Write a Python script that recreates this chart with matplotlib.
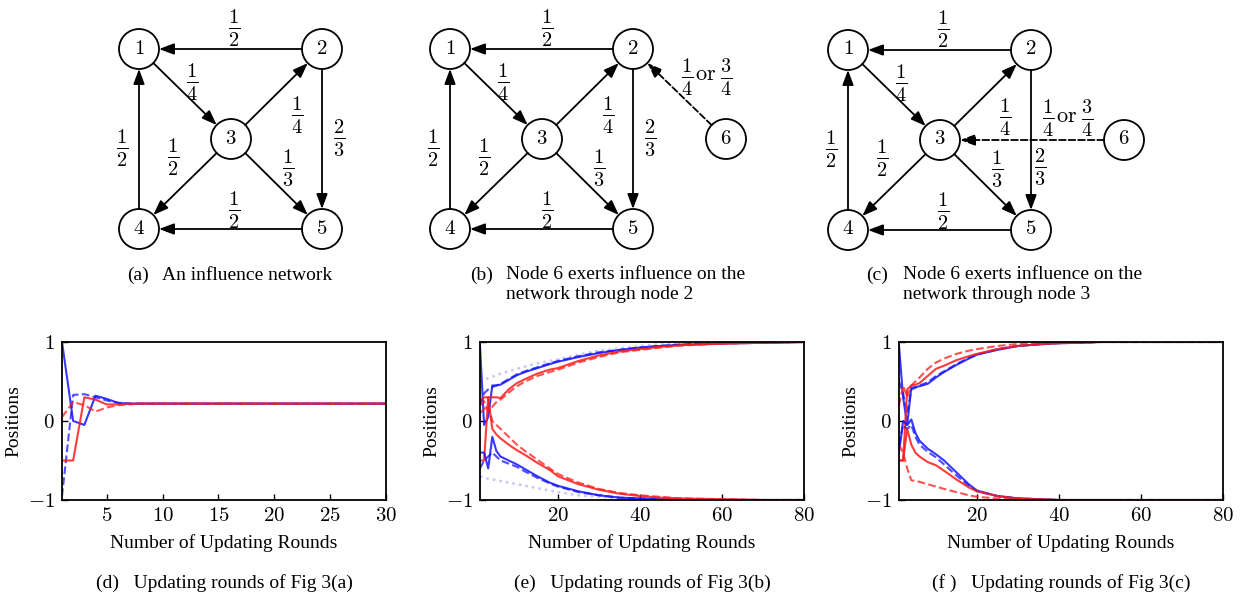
import matplotlib
matplotlib.use("Agg")
import matplotlib.pyplot as plt
from matplotlib.patches import Circle

plt.rcParams['font.family'] = 'Liberation Serif'
plt.rcParams['mathtext.fontset'] = 'cm'

# ---- network diagrams (a), (b), (c) ----
node_names = ['1', '2', '3', '4', '5', '6']
# node offsets from node 1, in pixels
node_offsets = {'1': (0, 0), '2': (183, 0), '3': (92, 90), '4': (0, 180),
                '5': (183, 180), '6': (276, 90)}
panel_origins = [(139, 49), (450, 49), (848, 50)]
edges = [('2', '1'), ('1', '3'), ('3', '2'), ('2', '5'),
         ('4', '1'), ('3', '4'), ('3', '5'), ('5', '4')]
edge_weights = [r'$\frac{1}{2}$', r'$\frac{1}{4}$', r'$\frac{1}{4}$', r'$\frac{2}{3}$',
                r'$\frac{1}{2}$', r'$\frac{1}{2}$', r'$\frac{1}{3}$', r'$\frac{1}{2}$']
extra_edges = [None, ('6', '2'), ('6', '3')]
extra_weight = [r'$\frac{1}{4}$', r'$\mathrm{or}$', r'$\frac{3}{4}$']
# label offsets (from node 1) for each panel
label_offsets = [
    [(95, -21), (53, 33), (158, 66), (200, 89), (-17, 99), (34, 108), (149, 119), (95, 161)],
    [(97, -21), (53, 33), (158, 66), (200, 89), (-17, 99), (34, 108), (149, 119), (97, 161)],
    [(95, -21), (53, 33), (157, 67), (192, 117), (-17, 99), (34, 108), (149, 119), (95, 161)],
]
extra_label_offsets = [None, (256, 28), (219, 68)]
top_tags = ['(a)', '(b)', '(c)']
top_captions = ['An influence network',
                'Node 6 exerts influence on the\nnetwork through node 2',
                'Node 6 exerts influence on the\nnetwork through node 3']
tag_x = [127, 470, 866]
caption_x = [162, 506, 903]

# ---- updating rounds (d), (e), (f) ----
d_x = [1, 2, 3, 4, 5, 6, 7, 8, 10, 30]
d_blue = [1.0, 0.0, -0.05, 0.32, 0.28, 0.23, 0.22, 0.22, 0.22, 0.22]
d_blue_dash = [-0.95, 0.33, 0.34, 0.3, 0.26, 0.23, 0.22, 0.22, 0.22, 0.22]
d_red = [-0.5, -0.5, 0.3, 0.27, 0.21, 0.21, 0.22, 0.22, 0.22, 0.22]
d_red_dash = [0.05, 0.24, 0.2, 0.12, 0.17, 0.2, 0.21, 0.22, 0.22, 0.22]

ef_x = [1, 2, 3, 4, 5, 6, 8, 10, 12, 15, 18, 20, 25, 30, 35, 40, 45, 50, 60, 70, 80]

e_blue_up = [0.95, -0.05, 0.05, 0.45, 0.45, 0.46, 0.52, 0.58, 0.62, 0.67, 0.72, 0.75, 0.81, 0.86, 0.9, 0.93, 0.95, 0.965, 0.98, 0.99, 1.0]
e_blue_up_dash = [0.2, 0.35, 0.4, 0.43, 0.45, 0.47, 0.53, 0.59, 0.63, 0.68, 0.73, 0.76, 0.82, 0.87, 0.9, 0.93, 0.95, 0.97, 0.985, 0.995, 1.0]
e_red_up = [-0.5, -0.5, 0.3, 0.3, 0.3, 0.29, 0.4, 0.48, 0.53, 0.6, 0.65, 0.67, 0.76, 0.83, 0.88, 0.91, 0.94, 0.96, 0.98, 0.99, 1.0]
e_red_up_dash = [0.2, 0.25, 0.12, 0.18, 0.24, 0.27, 0.36, 0.44, 0.5, 0.57, 0.62, 0.65, 0.74, 0.81, 0.87, 0.9, 0.93, 0.955, 0.98, 0.99, 1.0]
e_dot_up = [0.5, 0.52, 0.54, 0.56, 0.58, 0.6, 0.63, 0.66, 0.69, 0.73, 0.76, 0.78, 0.84, 0.89, 0.92, 0.95, 0.97, 0.98, 0.99, 1.0, 1.0]
e_blue_lo = [-0.4, -0.4, -0.6, -0.2, -0.38, -0.45, -0.5, -0.55, -0.61, -0.7, -0.78, -0.82, -0.89, -0.94, -0.97, -0.98, -0.99, -1.0, -1.0, -1.0, -1.0]
e_blue_lo_dash = [-0.6, -0.5, -0.45, -0.4, -0.45, -0.5, -0.54, -0.58, -0.64, -0.72, -0.79, -0.83, -0.9, -0.94, -0.97, -0.98, -0.99, -1.0, -1.0, -1.0, -1.0]
e_red_lo = [0.25, 0.3, 0.3, -0.1, -0.17, -0.22, -0.3, -0.37, -0.43, -0.53, -0.62, -0.7, -0.8, -0.87, -0.92, -0.95, -0.97, -0.98, -0.99, -1.0, -1.0]
e_red_lo_dash = [0.1, 0.15, 0.2, 0.0, -0.05, -0.1, -0.2, -0.3, -0.38, -0.49, -0.6, -0.67, -0.78, -0.86, -0.91, -0.94, -0.96, -0.98, -0.99, -1.0, -1.0]
e_dot_lo = [-0.7, -0.72, -0.73, -0.74, -0.75, -0.76, -0.78, -0.8, -0.82, -0.85, -0.88, -0.9, -0.94, -0.96, -0.98, -0.99, -1.0, -1.0, -1.0, -1.0, -1.0]

f_blue_up = [0.95, 0.3, -0.05, 0.42, 0.43, 0.44, 0.47, 0.55, 0.62, 0.71, 0.79, 0.84, 0.9, 0.95, 0.97, 0.985, 0.99, 1.0, 1.0, 1.0, 1.0]
f_blue_up_dash = [0.5, 0.35, 0.1, 0.4, 0.42, 0.45, 0.49, 0.57, 0.63, 0.72, 0.8, 0.84, 0.91, 0.95, 0.97, 0.985, 0.99, 1.0, 1.0, 1.0, 1.0]
f_red_up = [-0.5, -0.5, 0.4, 0.45, 0.46, 0.48, 0.57, 0.66, 0.7, 0.77, 0.82, 0.85, 0.91, 0.95, 0.97, 0.985, 0.99, 1.0, 1.0, 1.0, 1.0]
f_red_up_dash = [0.2, 0.45, 0.3, 0.45, 0.5, 0.55, 0.66, 0.74, 0.79, 0.85, 0.89, 0.91, 0.95, 0.975, 0.99, 1.0, 1.0, 1.0, 1.0, 1.0, 1.0]
f_blue_lo = [-0.4, 0.0, -0.05, 0.02, -0.15, -0.25, -0.35, -0.42, -0.5, -0.65, -0.8, -0.88, -0.95, -0.98, -0.99, -1.0, -1.0, -1.0, -1.0, -1.0, -1.0]
f_blue_lo_dash = [-0.3, -0.05, -0.1, -0.05, -0.2, -0.3, -0.39, -0.46, -0.55, -0.69, -0.82, -0.89, -0.95, -0.98, -0.99, -1.0, -1.0, -1.0, -1.0, -1.0, -1.0]
f_red_lo = [-0.5, -0.5, -0.1, -0.3, -0.4, -0.45, -0.52, -0.56, -0.63, -0.74, -0.84, -0.89, -0.95, -0.98, -0.99, -1.0, -1.0, -1.0, -1.0, -1.0, -1.0]
f_red_lo_dash = [-0.3, -0.4, -0.6, -0.75, -0.76, -0.77, -0.8, -0.83, -0.86, -0.9, -0.94, -0.96, -0.98, -0.99, -1.0, -1.0, -1.0, -1.0, -1.0, -1.0, -1.0]

d_xticks = [5, 10, 15, 20, 25, 30]
ef_xticks = [20, 40, 60, 80]
yticks = [-1, 0, 1]
ytick_labels = [r'$-1$', r'$0$', r'$1$']
bottom_captions = ['(d)   Updating rounds of Fig 3(a)',
                   '(e)   Updating rounds of Fig 3(b)',
                   '(f )   Updating rounds of Fig 3(c)']

BLUE = '#1414ff'
RED = '#ff1a1a'
LAV = '#b4b4f0'

fig = plt.figure(figsize=(12.44, 5.98), dpi=100)

# overlay in pixel coordinates for diagrams and captions
ov = fig.add_axes([0, 0, 1, 1])
ov.set_xlim(0, 1244)
ov.set_ylim(598, 0)
ov.axis('off')

R = 20
shrink = R * 72 / 100.0


def draw_edge(p, q, dashed=False):
    ov.annotate('', xy=q, xytext=p,
                arrowprops=dict(arrowstyle='-|>,head_length=0.75,head_width=0.28',
                                shrinkA=shrink, shrinkB=shrink, lw=1.3, color='black',
                                linestyle='--' if dashed else '-', mutation_scale=12))


for i, (ox, oy) in enumerate(panel_origins):
    pos = {n: (ox + node_offsets[n][0], oy + node_offsets[n][1]) for n in node_names}
    shown = node_names if extra_edges[i] else node_names[:5]
    for n in shown:
        ov.add_patch(Circle(pos[n], R, fill=False, lw=1.3, color='black'))
        ov.text(pos[n][0], pos[n][1], '$%s$' % n, ha='center', va='center', fontsize=15)
    for (a, b), w, (lx, ly) in zip(edges, edge_weights, label_offsets[i]):
        draw_edge(pos[a], pos[b])
        ov.text(ox + lx, oy + ly, w, ha='center', va='center', fontsize=21)
    if extra_edges[i]:
        a, b = extra_edges[i]
        draw_edge(pos[a], pos[b], dashed=True)
        lx, ly = extra_label_offsets[i]
        cx, cy = ox + lx, oy + ly
        ov.text(cx - 19, cy, extra_weight[0], ha='center', va='center', fontsize=21)
        ov.text(cx, cy - 1, extra_weight[1], ha='center', va='center', fontsize=16)
        ov.text(cx + 20, cy, extra_weight[2], ha='center', va='center', fontsize=21)
    ov.text(tag_x[i], 275, top_tags[i], ha='left', va='center', fontsize=14)
    if '\n' in top_captions[i]:
        ov.text(caption_x[i], 266, top_captions[i], ha='left', va='top', fontsize=14, linespacing=1.25)
    else:
        ov.text(caption_x[i], 275, top_captions[i], ha='left', va='center', fontsize=14)

# line plots
axes_left = [62, 480, 899]
W, H = 324, 158
bottom_px = 500
axs = []
for left in axes_left:
    ax = fig.add_axes([left / 1244, 1 - bottom_px / 598, W / 1244, H / 598])
    axs.append(ax)

series = [
    [(d_blue, BLUE, '-'), (d_blue_dash, BLUE, '--'), (d_red, RED, '-'), (d_red_dash, RED, '--')],
    [(e_dot_up, LAV, ':'), (e_dot_lo, LAV, ':'),
     (e_blue_up, BLUE, '-'), (e_blue_up_dash, BLUE, '--'), (e_red_up, RED, '-'), (e_red_up_dash, RED, '--'),
     (e_blue_lo, BLUE, '-'), (e_blue_lo_dash, BLUE, '--'), (e_red_lo, RED, '-'), (e_red_lo_dash, RED, '--')],
    [(f_blue_up, BLUE, '-'), (f_blue_up_dash, BLUE, '--'), (f_red_up, RED, '-'), (f_red_up_dash, RED, '--'),
     (f_blue_lo, BLUE, '-'), (f_blue_lo_dash, BLUE, '--'), (f_red_lo, RED, '-'), (f_red_lo_dash, RED, '--')],
]
xs = [d_x, ef_x, ef_x]
xmax = [30, 80, 80]
xticks = [d_xticks, ef_xticks, ef_xticks]

for k, ax in enumerate(axs):
    for ys, c, ls in series[k]:
        alpha = 0.85 if ls == '-' else 0.75
        lw = 1.5 if ls != ':' else 1.8
        ax.plot(xs[k], ys, color=c, linestyle=ls, lw=lw, alpha=alpha)
    ax.set_xlim(1, xmax[k])
    ax.set_ylim(-1, 1)
    ax.set_xticks(xticks[k])
    ax.set_xticklabels(['$%d$' % t for t in xticks[k]])
    ax.set_yticks(yticks)
    ax.set_yticklabels(ytick_labels)
    ax.tick_params(direction='in', labelsize=15, pad=5, length=4, width=1)
    for sp in ax.spines.values():
        sp.set_linewidth(1.3)
    ax.set_ylabel('Positions', fontsize=14, labelpad=4)
    ax.set_xlabel('Number of Updating Rounds', fontsize=14, labelpad=6)
    cx = axes_left[k] + W / 2
    ov.text(cx, 583, bottom_captions[k], ha='center', va='center', fontsize=14)

fig.savefig('out.png', dpi=100)
